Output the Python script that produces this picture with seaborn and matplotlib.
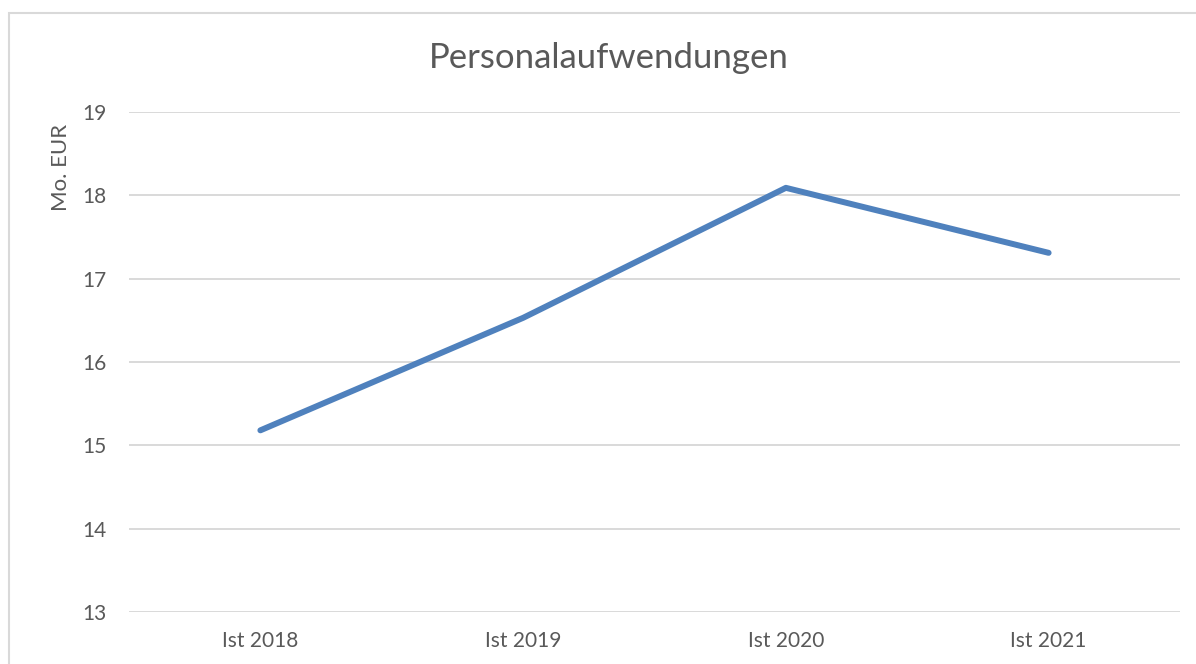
import matplotlib
matplotlib.use("Agg")
import matplotlib.pyplot as plt
import seaborn as sns
import pandas as pd
from matplotlib.patches import Rectangle

# Daten
jahre = ['Ist 2018', 'Ist 2019', 'Ist 2020', 'Ist 2021']
werte = [15.18, 16.53, 18.09, 17.31]
y_ticks = [13, 14, 15, 16, 17, 18, 19]

df = pd.DataFrame({'jahr': jahre, 'wert': werte})

sns.set_theme(style='white')
plt.rcParams['font.family'] = ['Lato', 'DejaVu Sans']

fig = plt.figure(figsize=(11.96, 6.64), dpi=100)
ax = fig.add_axes([129/1196, 52/664, (1180-129)/1196, 500/664])

sns.lineplot(data=df, x='jahr', y='wert', sort=False, ax=ax,
             color='#4F81BD', linewidth=4.3)

ax.set_xlim(-0.5, 3.5)
ax.set_ylim(13, 19)
ax.set_yticks(y_ticks)
ax.grid(axis='y', color='#D9D9D9', linewidth=1.4)
ax.set_axisbelow(True)
for s in ax.spines.values():
    s.set_visible(False)
ax.tick_params(axis='both', length=0, labelsize=15, labelcolor='#595959')
ax.tick_params(axis='y', pad=16)
ax.tick_params(axis='x', pad=14)
ax.set_xlabel('')
ax.set_ylabel('Mo. EUR', fontsize=16, color='#595959')
ax.yaxis.set_label_coords(-0.055, 0.89)

fig.text(609/1196, 1 - 58/664, 'Personalaufwendungen', ha='center', va='center',
         fontsize=25, color='#595959')

# Rahmen wie im Excel-Diagramm
fig.patches.append(Rectangle((9/1196, -0.1), 1.2, 1.1 - 13/664, transform=fig.transFigure,
                             fill=False, edgecolor='#D9D9D9', linewidth=1.5))

fig.savefig('out.png', dpi=100)
